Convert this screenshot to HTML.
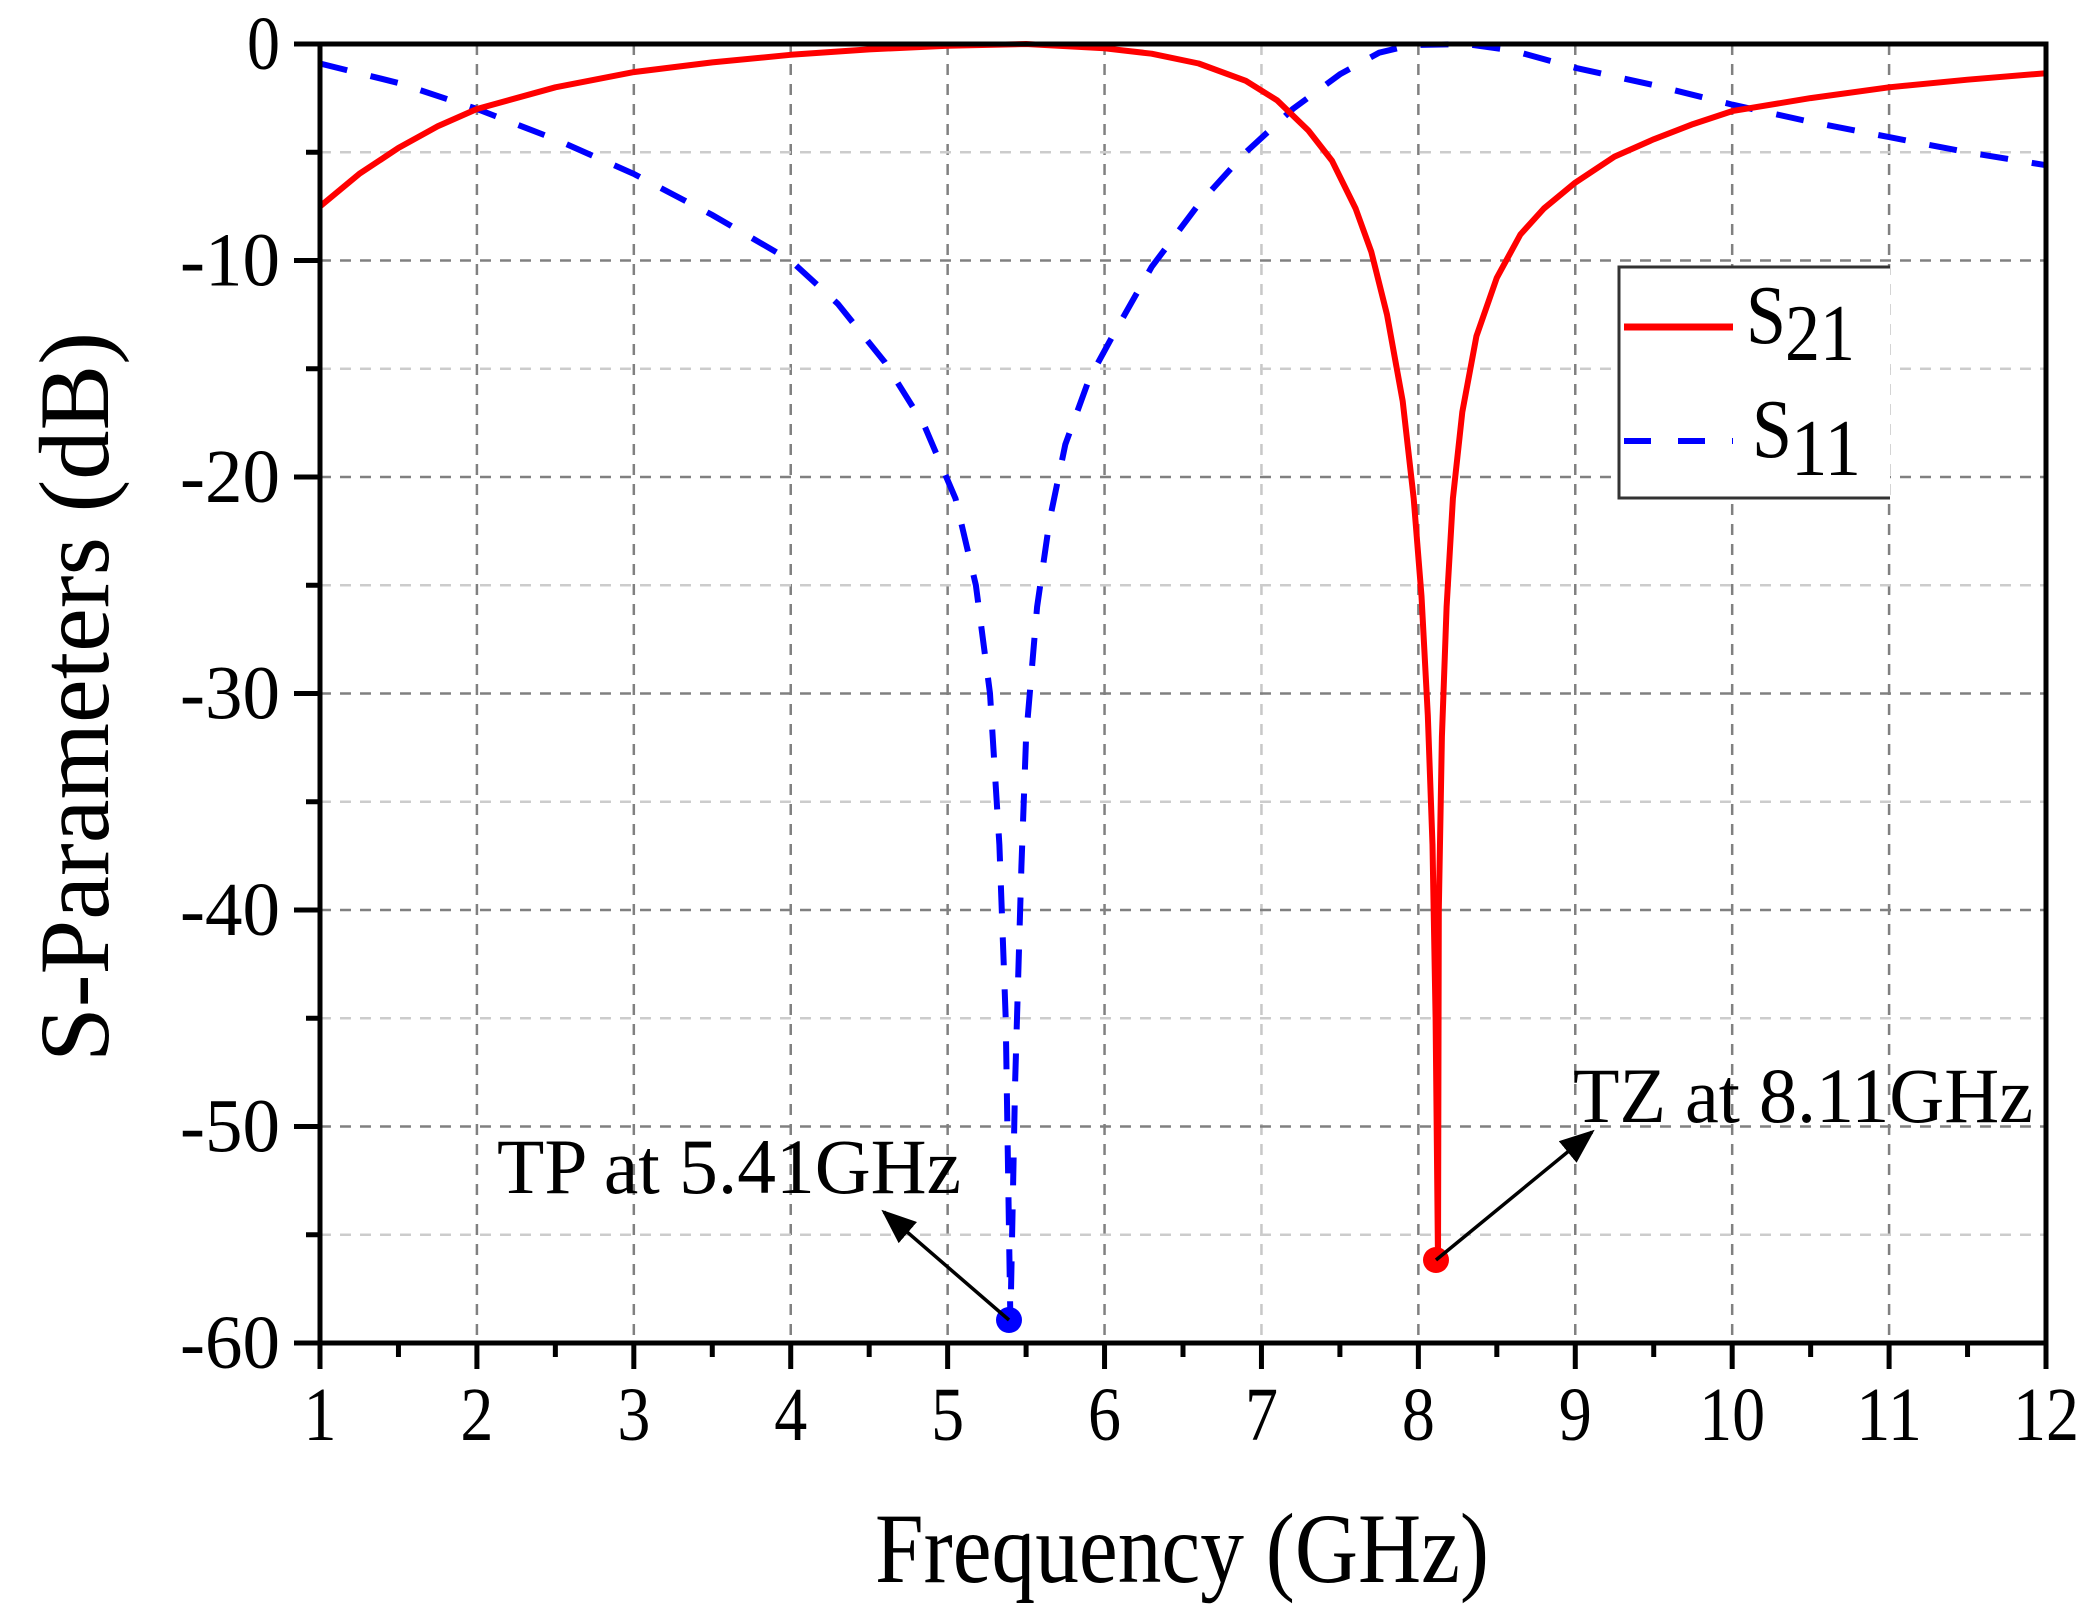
<!DOCTYPE html>
<html><head><meta charset="utf-8"><style>html,body{margin:0;padding:0;background:#fff}</style></head>
<body>
<svg id="s" width="2094" height="1618" xmlns="http://www.w3.org/2000/svg" font-family="Liberation Serif, serif">
<rect width="2094" height="1618" fill="#fff"/>
<g id="grid"></g>
<path id="s11" fill="none" stroke="#0000ff" stroke-width="6" stroke-dasharray="28,24"/>
<path id="s21" fill="none" stroke="#ff0000" stroke-width="6" stroke-linejoin="round"/>
<g id="axes"></g>
<circle cx="1009" cy="1320" r="13" fill="#0000ff"/>
<circle cx="1436" cy="1260" r="13" fill="#ff0000"/>
<defs><marker id="ah" markerWidth="10" markerHeight="8" refX="9" refY="4" orient="auto" markerUnits="strokeWidth"><path d="M0,0 L10,4 L0,8 z" fill="#000"/></marker></defs>
<line x1="1009" y1="1320" x2="884" y2="1212" stroke="#000" stroke-width="3.5" marker-end="url(#ah)"/>
<line x1="1436" y1="1260" x2="1592" y2="1132" stroke="#000" stroke-width="3.5" marker-end="url(#ah)"/>
<text x="497" y="1193" font-size="78" textLength="464" lengthAdjust="spacingAndGlyphs">TP at 5.41GHz</text>
<text x="1573" y="1122" font-size="78" textLength="460" lengthAdjust="spacingAndGlyphs">TZ at 8.11GHz</text>
<rect x="1619" y="267" width="271" height="231" fill="#fff" stroke="none"/>
<path d="M1890,267 L1619,267 L1619,498 L1890,498" fill="none" stroke="#333" stroke-width="3"/>
<line x1="1624" y1="327" x2="1733" y2="327" stroke="#ff0000" stroke-width="7"/>
<line x1="1624" y1="441" x2="1733" y2="441" stroke="#0000ff" stroke-width="6" stroke-dasharray="27,27"/>
<text x="1746" y="343" font-size="84" textLength="40" lengthAdjust="spacingAndGlyphs">S</text><text x="1785" y="360" font-size="80" textLength="70" lengthAdjust="spacingAndGlyphs">21</text>
<text x="1752" y="457" font-size="84" textLength="40" lengthAdjust="spacingAndGlyphs">S</text><text x="1791" y="475" font-size="80" textLength="70" lengthAdjust="spacingAndGlyphs">11</text>
<text x="0" y="0" font-size="100" transform="translate(108,697) rotate(-90)" text-anchor="middle" textLength="730" lengthAdjust="spacingAndGlyphs">S-Parameters (dB)</text>
<text x="1182" y="1582" font-size="100" text-anchor="middle" textLength="614" lengthAdjust="spacingAndGlyphs">Frequency (GHz)</text>
</svg>
<script>
var L=320,R=2046,T=44,B=1343;
function X(f){return L+(f-1)*(R-L)/11}
function Y(d){return T-d*(B-T)/60}
var ns="http://www.w3.org/2000/svg";
function el(p,t,a,txt){var e=document.createElementNS(ns,t);for(var k in a)e.setAttribute(k,a[k]);if(txt!=null)e.textContent=txt;p.appendChild(e);return e}
var g=document.getElementById('grid'),ax=document.getElementById('axes');
for(var f=2;f<=11;f++)el(g,'line',{x1:X(f),y1:T,x2:X(f),y2:B,stroke:f==7?'#c8c8c8':'#808080','stroke-width':2.5,'stroke-dasharray':'11,9'});
for(var d=-55;d<0;d+=5){var maj=d%10==0;el(g,'line',{x1:L,y1:Y(d),x2:R,y2:Y(d),stroke:maj?'#808080':'#cccccc','stroke-width':2.5,'stroke-dasharray':'11,9'});}
el(ax,'rect',{x:L,y:T,width:R-L,height:B-T,fill:'none',stroke:'#000','stroke-width':5});
for(var f=1;f<=12;f+=0.5){var m=f%1==0;el(ax,'line',{x1:X(f),y1:B,x2:X(f),y2:B+(m?26:14),stroke:'#000','stroke-width':5});
 if(m){var s=String(f);el(ax,'text',{x:X(f),y:1440,'font-size':76,'text-anchor':'middle',textLength:s.length*33,lengthAdjust:'spacingAndGlyphs'},s);}}
for(var d=-60;d<=0;d+=5){var m=d%10==0;el(ax,'line',{x1:L,y1:Y(d),x2:L-(m?26:14),y2:Y(d),stroke:'#000','stroke-width':5});
 if(m){var s=String(d);el(ax,'text',{x:280,y:Y(d)+25,'font-size':76,'text-anchor':'end',textLength:(d==0?33:100),lengthAdjust:'spacingAndGlyphs'},s);}}
var s21=[[1,-7.5],[1.25,-6],[1.5,-4.8],[1.75,-3.8],[2,-3],[2.5,-2],[3,-1.3],[3.5,-0.85],[4,-0.5],[4.5,-0.25],[5,-0.08],[5.5,0],[6,-0.2],[6.3,-0.45],[6.6,-0.9],[6.9,-1.7],[7.1,-2.6],[7.3,-4],[7.45,-5.4],[7.6,-7.6],[7.7,-9.6],[7.8,-12.5],[7.9,-16.5],[7.97,-21],[8.02,-25.5],[8.06,-31],[8.09,-37],[8.11,-45],[8.125,-56.2],[8.13,-40],[8.15,-32],[8.18,-26],[8.22,-21],[8.28,-17],[8.37,-13.5],[8.5,-10.8],[8.65,-8.8],[8.8,-7.6],[9,-6.4],[9.25,-5.2],[9.5,-4.4],[9.75,-3.7],[10,-3.1],[10.5,-2.5],[11,-2],[11.5,-1.65],[12,-1.35]];
var s11=[[1,-0.9],[1.5,-1.8],[2,-3],[2.5,-4.4],[3,-6],[3.5,-7.9],[4,-10],[4.3,-12],[4.6,-14.7],[4.85,-17.6],[5.05,-21],[5.18,-25],[5.27,-30],[5.33,-37],[5.37,-45],[5.4,-59],[5.43,-48],[5.47,-38],[5.5,-32],[5.57,-26],[5.65,-22],[5.75,-18.5],[5.9,-15.5],[6.05,-13.5],[6.3,-10.3],[6.6,-7.4],[6.9,-5],[7.2,-3],[7.5,-1.4],[7.75,-0.4],[7.95,-0.05],[8.3,0],[8.6,-0.3],[9,-1.1],[9.5,-1.9],[10,-2.8],[10.5,-3.6],[11,-4.3],[11.5,-5],[12,-5.6]];
function path(p){var s='M'+X(p[0][0]).toFixed(1)+','+Y(p[0][1]).toFixed(1);for(var i=1;i<p.length;i++)s+=' L'+X(p[i][0]).toFixed(1)+','+Y(p[i][1]).toFixed(1);return s}
document.getElementById('s21').setAttribute('d',path(s21));
document.getElementById('s11').setAttribute('d',path(s11));
</script>
</body></html>
